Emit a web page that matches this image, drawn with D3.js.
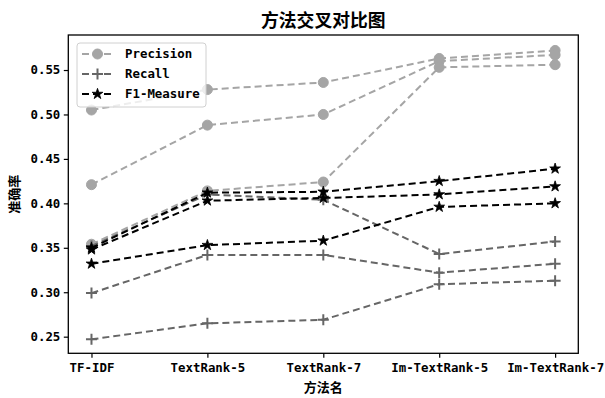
<!DOCTYPE html>
<html><head><meta charset="utf-8">
<script src="https://cdn.jsdelivr.net/npm/d3@7"></script>
<style>
body{margin:0;background:#fff;}
svg text{fill:#000;}
</style></head>
<body>
<svg id="chart" width="605" height="398"></svg>
<script>
const categories = ["TF-IDF","TextRank-5","TextRank-7","Im-TextRank-5","Im-TextRank-7"];
const precision = [
  [0.505,0.528,0.536,0.563,0.572],
  [0.421,0.488,0.500,0.560,0.567],
  [0.354,0.414,0.424,0.553,0.556]
];
const recall = [
  [0.352,0.410,0.404,0.343,0.357],
  [0.299,0.342,0.342,0.322,0.332],
  [0.247,0.265,0.269,0.309,0.313]
];
const f1 = [
  [0.350,0.412,0.413,0.425,0.439],
  [0.348,0.403,0.406,0.410,0.419],
  [0.332,0.353,0.358,0.396,0.400]
];
const yTicks = [0.25,0.30,0.35,0.40,0.45,0.50,0.55];
const seriesNames = ["Precision","Recall","F1-Measure"];
const titleText = "方法交叉对比图";
const xLabel = "方法名";
const yLabel = "准确率";

const svg = d3.select("#chart");
const L = 68.3, R = 578.3, T = 35, B = 353.3;
const latin = "'DejaVu Sans Mono', monospace";
const cjk = "'Noto Sans CJK SC', sans-serif";

const x = d3.scaleLinear().domain([-0.2, categories.length - 1 + 0.2]).range([L, R]);
const y = d3.scaleLinear().domain([0.2313, 0.5894]).range([B, T]);

const styles = [
  {data: precision, color: "#a5a5a5", marker: "circle"},
  {data: recall, color: "#666666", marker: "plus"},
  {data: f1, color: "#000000", marker: "star"}
];

function drawMarker(g, type, color){
  if(type === "circle"){
    g.append("circle").attr("r", 5).attr("fill", color).attr("stroke", color);
  } else if(type === "plus"){
    g.append("path").attr("d","M-5.5,0H5.5M0,-5.5V5.5").attr("stroke", color).attr("stroke-width", 2).attr("fill","none");
  } else {
    g.append("path").attr("d", d3.symbol(d3.symbolStar, 36)()).attr("fill", color).attr("stroke", color).attr("stroke-width", 0.8);
  }
}

const line = d3.line().x((d,i)=>x(i)).y(d=>y(d));
const plot = svg.append("g");
styles.forEach(s=>{
  s.data.forEach(arr=>{
    plot.append("path").datum(arr).attr("d", line)
      .attr("fill","none").attr("stroke", s.color).attr("stroke-width", 2)
      .attr("stroke-dasharray","7,4");
    arr.forEach((v,i)=>{
      const g = plot.append("g").attr("transform", `translate(${x(i)},${y(v)})`);
      drawMarker(g, s.marker, s.color);
    });
  });
});

// axes
const xAxis = d3.axisBottom(x).tickValues(d3.range(categories.length)).tickFormat(i=>categories[i]).tickSize(4.5).tickSizeOuter(0);
const gx = svg.append("g").attr("transform", `translate(0,${B})`).call(xAxis);
gx.select(".domain").remove();
gx.selectAll("line").attr("stroke","#000").attr("stroke-width",1.2);
gx.selectAll("text").attr("font-family", latin).attr("font-weight","bold").attr("font-size", 12.4).attr("dy", "1.05em").attr("y", 6);

const yAxis = d3.axisLeft(y).tickValues(yTicks).tickFormat(d3.format(".2f")).tickSize(4.5).tickSizeOuter(0);
const gy = svg.append("g").attr("transform", `translate(${L},0)`).call(yAxis);
gy.select(".domain").remove();
gy.selectAll("line").attr("stroke","#000").attr("stroke-width",1.2);
gy.selectAll("text").attr("font-family", latin).attr("font-weight","bold").attr("font-size", 12.4).attr("x", -8);

svg.append("rect").attr("x", L).attr("y", T).attr("width", R-L).attr("height", B-T)
  .attr("fill","none").attr("stroke","#000").attr("stroke-width",1.3);

// title & labels
svg.append("text").attr("x", (L+R)/2).attr("y", 27).attr("text-anchor","middle")
  .attr("font-family", cjk).attr("font-weight","bold").attr("font-size", 17.8).text(titleText);
svg.append("text").attr("x", (L+R)/2).attr("y", 392).attr("text-anchor","middle")
  .attr("font-family", cjk).attr("font-weight","bold").attr("font-size", 13).text(xLabel);
svg.append("text").attr("transform", `translate(19,${(T+B)/2}) rotate(-90)`).attr("text-anchor","middle")
  .attr("font-family", cjk).attr("font-weight","bold").attr("font-size", 13).text(yLabel);

// legend
const lg = svg.append("g");
lg.append("rect").attr("x", 77).attr("y", 43).attr("width", 129).attr("height", 64).attr("rx", 3)
  .attr("fill","#fff").attr("fill-opacity",0.8).attr("stroke","#d0d0d0").attr("stroke-width",1);
seriesNames.forEach((name, k)=>{
  const yy = 54 + k*20;
  const s = styles[k];
  lg.append("line").attr("x1", 82).attr("x2", 113).attr("y1", yy).attr("y2", yy)
    .attr("stroke", s.color).attr("stroke-width", 2).attr("stroke-dasharray","7,4");
  const g = lg.append("g").attr("transform", `translate(97.5,${yy})`);
  drawMarker(g, s.marker, s.color);
  lg.append("text").attr("x", 125).attr("y", yy).attr("dy","0.35em")
    .attr("font-family", latin).attr("font-weight","bold").attr("font-size", 12.4).text(name);
});
</script>
</body></html>
